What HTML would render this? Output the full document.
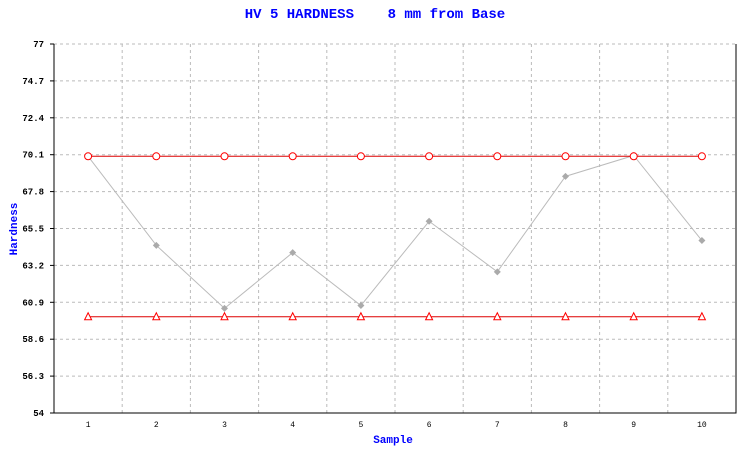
<!DOCTYPE html>
<html><head><meta charset="utf-8"><style>body{margin:0;background:#fff}svg{display:block}</style></head>
<body>
<svg id="c" width="750" height="450" xmlns="http://www.w3.org/2000/svg" font-family="'Liberation Mono', monospace">
<text x="375" y="18" text-anchor="middle" fill="#0000ff" font-size="14" font-weight="bold" xml:space="preserve">HV 5 HARDNESS    8 mm from Base</text>
<text x="393" y="443" text-anchor="middle" fill="#0000ff" font-size="11" font-weight="bold">Sample</text>
<text transform="translate(17,229) rotate(-90)" text-anchor="middle" fill="#0000ff" font-size="11" font-weight="bold">Hardness</text>
<g id="grid"></g><g id="axes"></g><g id="marks"></g>
</svg>
<script>
const categories = [1,2,3,4,5,6,7,8,9,10];
const hardness = [70.0,64.45,60.52,64.0,60.7,65.95,62.8,68.75,70.05,64.75];
const upperLimit = [70,70,70,70,70,70,70,70,70,70];
const lowerLimit = [60,60,60,60,60,60,60,60,60,60];
const yTicks = ["54","56.3","58.6","60.9","63.2","65.5","67.8","70.1","72.4","74.7","77"];
const NS="http://www.w3.org/2000/svg";
const L=54,R=736,T=44,B=413,yMin=54,yMax=77;
const bw=(R-L)/categories.length;
const x=i=>L+bw*(i+0.5);
const y=v=>B-(v-yMin)/(yMax-yMin)*(B-T);
function mk(p,tag,a){const e=document.createElementNS(NS,tag);for(const k in a)e.setAttribute(k,a[k]);document.getElementById(p).appendChild(e);return e;}
yTicks.forEach((t,i)=>{const yy=y(parseFloat(t));
 if(i>0){const g=mk('grid','line',{x1:L,x2:R,y1:yy,y2:yy,stroke:'#bbb','stroke-dasharray':'3,3'});
 
 }
 const tk=mk('axes','line',{x1:L-4,x2:L,y1:yy,y2:yy,stroke:'#000'});
 
 
 const lb=mk('axes','text',{x:L-10,y:yy+3,'text-anchor':'end','font-size':'9','font-weight':'bold',fill:'#000'});lb.textContent=t;
 
 
});
categories.forEach((c,i)=>{
 if(i>0){const g=mk('grid','line',{x1:L+bw*i,x2:L+bw*i,y1:T,y2:B,stroke:'#bbb','stroke-dasharray':'3,3'});
 
 }
 const lb=mk('axes','text',{x:x(i),y:B+14,'text-anchor':'middle','font-size':'8',fill:'#000'});lb.textContent=c;
 
 
});
const ax=mk('axes','path',{d:`M${L},${T}V${B}H${R}V${T}`,fill:'none',stroke:'#000'});


function line(arr,col,name){const p=mk('marks','polyline',{points:arr.map((v,i)=>x(i)+','+y(v)).join(' '),fill:'none',stroke:col,'stroke-width':1});
 
 }
line(hardness,'#bbb','hardness-line');
line(upperLimit,'#d00','upper-limit-line');
line(lowerLimit,'#d00','lower-limit-line');
hardness.forEach((v,i)=>{const d=mk('marks','path',{d:`M${x(i)},${y(v)-3.5}l3.5,3.5l-3.5,3.5l-3.5,-3.5z`,fill:'#aaa'});
 
 });
upperLimit.forEach((v,i)=>{const d=mk('marks','circle',{cx:x(i),cy:y(v),r:3.5,fill:'#fff',stroke:'#f00'});
 
 });
lowerLimit.forEach((v,i)=>{const d=mk('marks','path',{d:`M${x(i)},${y(v)-4}l3.5,7h-7z`,fill:'#fff',stroke:'#f00'});
 
 });
</script>
</body></html>
